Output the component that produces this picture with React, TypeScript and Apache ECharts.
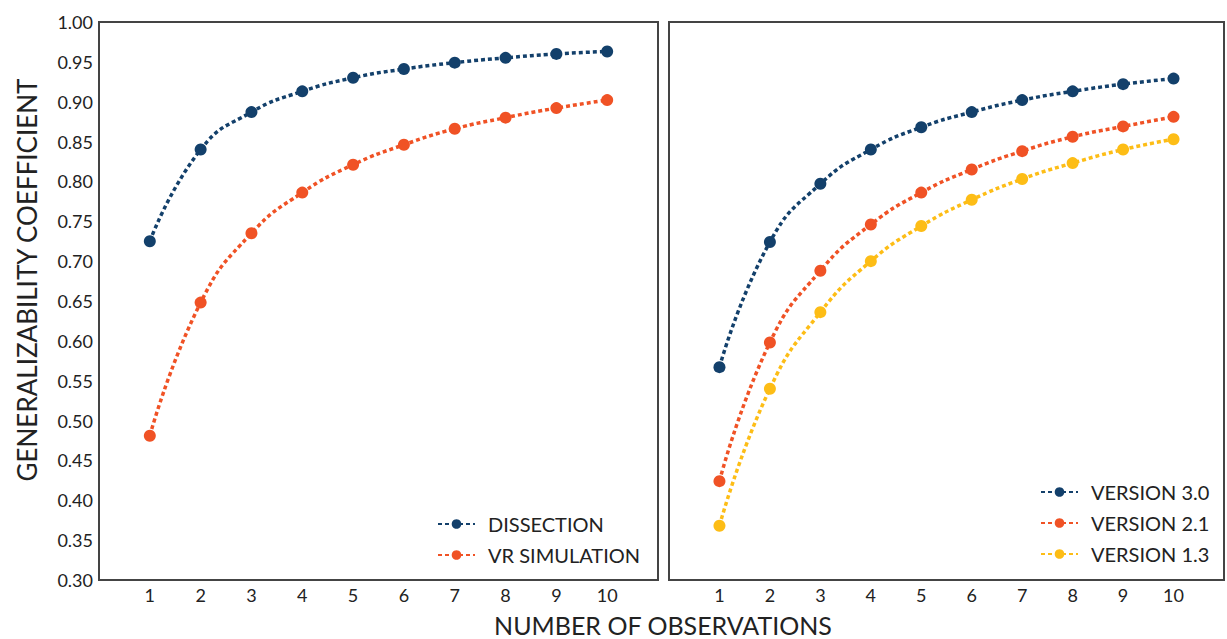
import React, { useEffect, useRef } from "react";
import * as echarts from "echarts";

const observations = [1, 2, 3, 4, 5, 6, 7, 8, 9, 10];
const dissection = [0.725, 0.840, 0.887, 0.913, 0.930, 0.941, 0.949, 0.955, 0.960, 0.963];
const vrSimulation = [0.481, 0.648, 0.735, 0.786, 0.821, 0.846, 0.866, 0.880, 0.892, 0.902];
const version30 = [0.567, 0.724, 0.797, 0.840, 0.868, 0.887, 0.902, 0.913, 0.922, 0.929];
const version21 = [0.424, 0.598, 0.688, 0.746, 0.786, 0.815, 0.838, 0.856, 0.869, 0.881];
const version13 = [0.368, 0.540, 0.636, 0.700, 0.744, 0.777, 0.803, 0.823, 0.840, 0.853];

const NAVY = "#13406b";
const ORANGE = "#f05225";
const YELLOW = "#fdbd16";
const FONT = "Lato";
const TEXT = "#222";

function mkSeries(name: string, vals: number[], color: string, idx: number) {
  return {
    name,
    type: "line",
    xAxisIndex: idx,
    yAxisIndex: idx,
    data: observations.map((o, i) => [o, vals[i]]),
    smooth: 0.5,
    symbol: "circle",
    symbolSize: 12,
    itemStyle: { color },
    lineStyle: { color, width: 3.5, type: [4, 3] },
  };
}

export default function App() {
  const ref = useRef<HTMLDivElement>(null);
  useEffect(() => {
    const chart = echarts.init(ref.current!, null, { renderer: "svg" });
    const xAxisBase = {
      type: "value",
      min: 0,
      max: 11,
      interval: 1,
      axisLine: { show: false },
      axisTick: { show: false },
      splitLine: { show: false },
      axisLabel: {
        color: TEXT,
        fontFamily: FONT,
        fontSize: 18,
        margin: 6,
        formatter: (v: number) => (v >= 1 && v <= 10 ? String(v) : ""),
      },
    };
    const yAxisBase = {
      type: "value",
      min: 0.3,
      max: 1.0,
      interval: 0.05,
      axisLine: { show: false },
      axisTick: { show: false },
      splitLine: { show: false },
    };
    const legendText = { color: TEXT, fontFamily: FONT, fontSize: 20, padding: [0, 0, 0, 8] };
    chart.setOption({
      animation: false,
      grid: [
        { left: 99, top: 22, width: 559, height: 558, show: true, borderColor: "#444", borderWidth: 2, backgroundColor: "transparent" },
        { left: 669, top: 22, width: 560, height: 558, show: true, borderColor: "#444", borderWidth: 2, backgroundColor: "transparent" },
      ],
      xAxis: [
        { ...xAxisBase, gridIndex: 0 },
        { ...xAxisBase, gridIndex: 1 },
      ],
      yAxis: [
        {
          ...yAxisBase,
          gridIndex: 0,
          axisLabel: {
            color: TEXT,
            fontFamily: FONT,
            fontSize: 18,
            margin: 6,
            formatter: (v: number) => v.toFixed(2),
          },
        },
        { ...yAxisBase, gridIndex: 1, axisLabel: { show: false } },
      ],
      legend: [
        {
          data: ["DISSECTION", "VR SIMULATION"],
          orient: "vertical",
          left: 432,
          top: 509,
          itemWidth: 37,
          itemHeight: 12,
          itemGap: 11,
          textStyle: legendText,
        },
        {
          data: ["VERSION 3.0", "VERSION 2.1", "VERSION 1.3"],
          orient: "vertical",
          left: 1035,
          top: 477,
          itemWidth: 37,
          itemHeight: 12,
          itemGap: 11,
          textStyle: legendText,
        },
      ],
      graphic: [
        {
          type: "text",
          x: 27,
          y: 280,
          rotation: Math.PI / 2,
          style: {
            text: "GENERALIZABILITY COEFFICIENT",
            fill: TEXT,
            font: `26px ${FONT}`,
            align: "center",
            verticalAlign: "middle",
          },
        },
        {
          type: "text",
          x: 663,
          y: 625,
          style: {
            text: "NUMBER OF OBSERVATIONS",
            fill: TEXT,
            font: `25px ${FONT}`,
            align: "center",
            verticalAlign: "middle",
          },
        },
      ],
      series: [
        mkSeries("DISSECTION", dissection, NAVY, 0),
        mkSeries("VR SIMULATION", vrSimulation, ORANGE, 0),
        mkSeries("VERSION 3.0", version30, NAVY, 1),
        mkSeries("VERSION 2.1", version21, ORANGE, 1),
        mkSeries("VERSION 1.3", version13, YELLOW, 1),
      ],
    });
    return () => chart.dispose();
  }, []);
  return <div ref={ref} style={{ width: 1227, height: 639, position: "absolute", left: 0, top: 0 }} />;
}
